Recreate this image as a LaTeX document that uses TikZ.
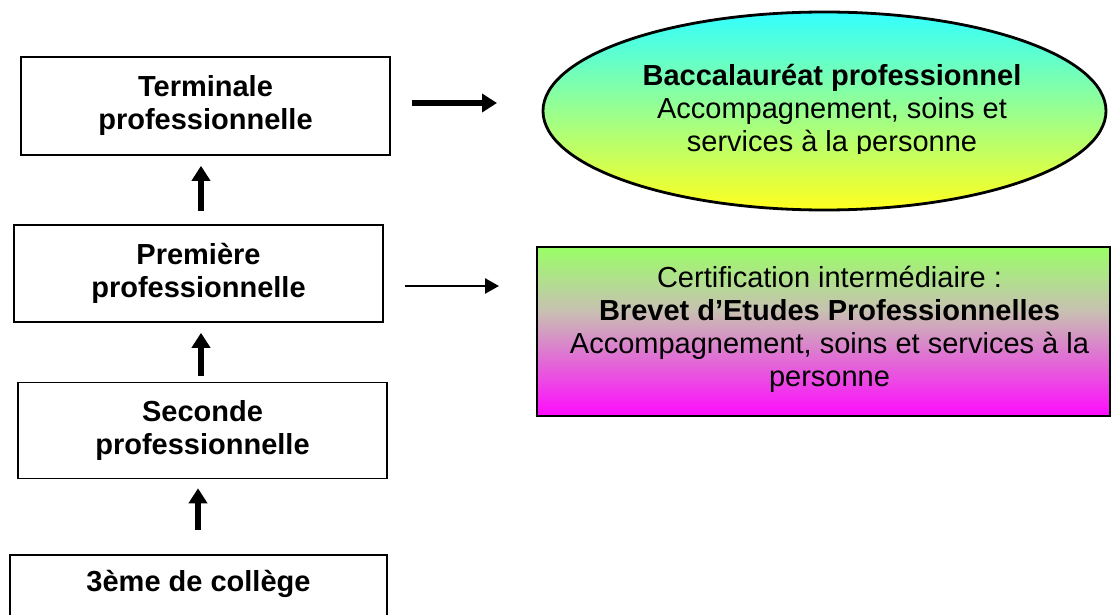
\documentclass[tikz,border=0pt]{standalone}
\usepackage{fontspec}
\setmainfont{Liberation Sans}
\usetikzlibrary{arrows.meta,shapes.geometric,calc}
\definecolor{greentop}{RGB}{153,255,102}
\definecolor{greymid}{RGB}{200,192,178}
\definecolor{magb}{RGB}{255,10,255}
\definecolor{cyantop}{RGB}{51,255,255}
\definecolor{yellowbot}{RGB}{255,255,30}
\pgfdeclareverticalshading{bepshade}{100bp}{color(0bp)=(magb); color(25bp)=(magb); color(56bp)=(greymid); color(75bp)=(greentop); color(100bp)=(greentop)}
\begin{document}
\begin{tikzpicture}[x=1pt,y=-1pt,
  every node/.style={font=\fontsize{29}{33}\selectfont, align=center},
  boldtext/.style={font=\fontsize{29}{33}\selectfont\bfseries},
  levelbox/.style={draw, line width=1.6pt, inner sep=0pt, minimum width=369pt, minimum height=98pt, boldtext},
  thickarr/.style={line width=6pt, -{Triangle[length=15pt,width=18pt]}},
  thinarr/.style={line width=2.5pt, -{Triangle[length=14pt,width=15pt]}}
]
\clip (0,0) rectangle (1112,615);
\fill[white] (0,0) rectangle (1112,615);

% left column
\node[levelbox] (term) at (205.5,106) {Terminale\\professionnelle};
\node[levelbox, minimum height=97pt] (prem) at (198.5,273.5) {Première\\professionnelle};
\node[levelbox, minimum height=96pt] (sec) at (202.5,430.5) {Seconde\\professionnelle};
\node[levelbox, minimum width=377pt, minimum height=0pt, anchor=north, inner ysep=8pt, text height=28.5pt, text depth=50pt] (coll) at (198.5,554) {3ème de collège};

% ellipse
\node[ellipse, draw, line width=2.8pt, top color=cyantop, bottom color=yellowbot, minimum width=563pt, minimum height=198pt, inner sep=0pt] (bac) at (824.5,111) {};
\begin{scope}
\clip (540,0) rectangle (1110,154);
\node[inner sep=0pt] (bactext) at (832,111) {\textbf{Baccalauréat professionnel}\\Accompagnement, soins et\\services à la personne};
\end{scope}

% BEP box
\node[draw, line width=1.8pt, shade, shading=bepshade, minimum width=573pt, minimum height=169pt, inner sep=0pt] (bep) at (823.5,331.5) {};
\node[inner sep=0pt] (beptext) at (829.5,329.5) {Certification intermédiaire :\\\textbf{Brevet d’Etudes Professionnelles}\\Accompagnement, soins et services à la\\personne};

% vertical arrows
\draw[thickarr, shorten <=13pt, shorten >=10pt] ([xshift=2.5pt]prem.north) -- ([xshift=2.5pt]prem.north |- term.south);
\draw[thickarr, shorten <=6pt, shorten >=10pt] ([xshift=-1.5pt]sec.north) -- ([xshift=-1.5pt]sec.north |- prem.south);
\draw[thickarr, shorten <=24pt, shorten >=9pt] ([xshift=-0.5pt]coll.north) -- ([xshift=-0.5pt]coll.north |- sec.south);

% horizontal arrows
\coordinate (bacin) at (497,103);
\coordinate (bepin) at (499,286);
\draw[thickarr] ([xshift=21pt,yshift=3pt]term.east) -- (bacin);
\draw[thinarr] ([xshift=21pt,yshift=-12.5pt]prem.east) -- (bepin);
\end{tikzpicture}
\end{document}
